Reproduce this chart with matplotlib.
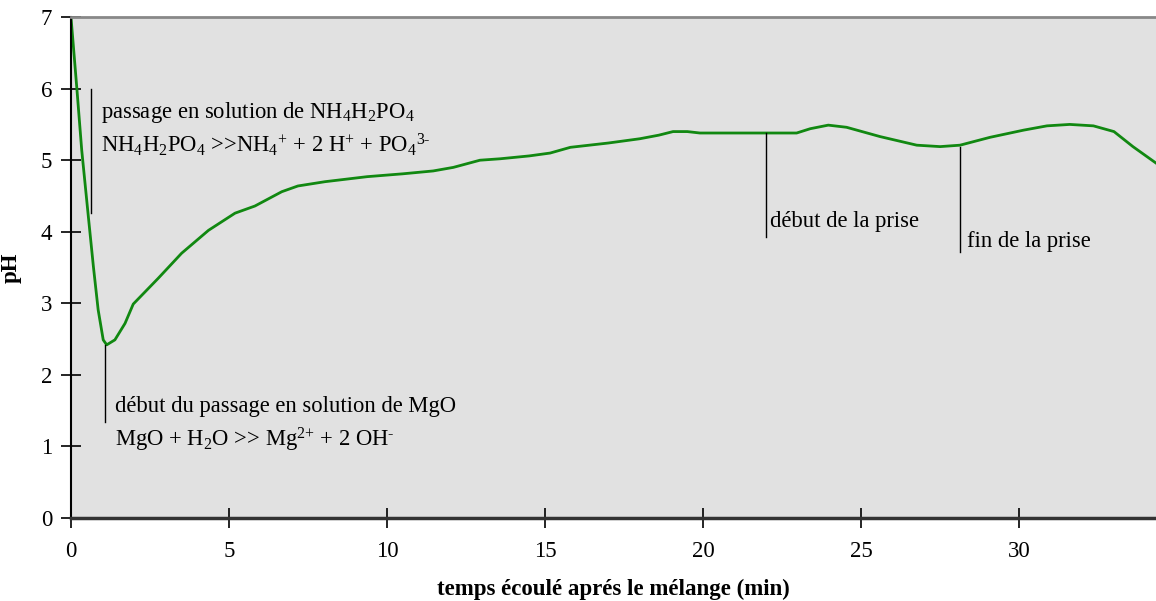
import matplotlib
matplotlib.use("Agg")
import matplotlib.pyplot as plt

# pH du ciment phosphomagnésien en fonction du temps
temps = [0, 0.19, 0.34, 0.55, 0.71, 0.86, 1.02, 1.13, 1.39, 1.71, 1.97, 2.76, 3.5, 4.35,
         5.19, 5.82, 6.67, 7.18, 8.04, 9.37, 10.5, 11.46, 12.1, 12.94, 13.58, 14.5,
         15.16, 15.8, 17.0, 18.0, 18.6, 19.05, 19.5, 19.9, 21.17, 22.12, 22.96, 23.39,
         23.96, 24.54, 25.6, 26.76, 27.5, 28.13, 29.08, 30.14, 30.88, 31.6, 32.35,
         33.0, 33.6, 34.33]
ph = [7.0, 5.98, 5.14, 4.21, 3.51, 2.91, 2.49, 2.42, 2.49, 2.72, 2.99, 3.35, 3.70, 4.02,
      4.26, 4.36, 4.56, 4.64, 4.70, 4.77, 4.81, 4.85, 4.9, 5.0, 5.02, 5.06,
      5.10, 5.18, 5.24, 5.30, 5.35, 5.40, 5.40, 5.38, 5.38, 5.38, 5.38, 5.44,
      5.49, 5.46, 5.33, 5.21, 5.19, 5.21, 5.32, 5.42, 5.48, 5.50, 5.48,
      5.40, 5.19, 4.96]

# repères verticaux (x, y bas, y haut)
reperes = [(0.63, 4.26, 6.0), (1.08, 1.34, 2.42), (22.0, 3.93, 5.38), (28.13, 3.72, 5.19)]

plt.rcParams['font.family'] = ['Liberation Serif', 'DejaVu Serif']
plt.rcParams['mathtext.fontset'] = 'custom'
plt.rcParams['mathtext.rm'] = 'Liberation Serif'
plt.rcParams['mathtext.it'] = 'Liberation Serif:italic'
plt.rcParams['mathtext.bf'] = 'Liberation Serif:bold'

fig = plt.figure(figsize=(11.56, 6.01), dpi=100)
ax = fig.add_axes([0.0614, 0.138, 0.9386, 0.8336])
ax.set_facecolor('#e1e1e1')

ax.plot(temps, ph, color='#118811', lw=2.0, solid_joinstyle='round')
for x, y0, y1 in reperes:
    ax.plot([x, x], [y0, y1], color='black', lw=1.0)

fs = 16.3
hy = '\u2010'
ax.text(0.95, 5.66, r'passage en solution de NH$_4$H$_2$PO$_4$', fontsize=fs, va='center')
ax.text(0.95, 5.22, r'NH$_4$H$_2$PO$_4$ >>NH$_4$$^{{+}}$ + 2 H$^{{+}}$ + PO$_4$$^{3' + hy + '}$',
        fontsize=fs, va='center')
ax.text(1.4, 1.56, 'début du passage en solution de MgO', fontsize=fs, va='center')
ax.text(1.4, 1.09, r'MgO + H$_2$O >> Mg$^{2{+}}$ + 2 OH$^{' + hy + '}$', fontsize=fs, va='center')
ax.text(22.12, 4.14, 'début de la prise', fontsize=fs, va='center')
ax.text(28.35, 3.87, 'fin de la prise', fontsize=fs, va='center')

ax.set_xlim(0, 34.33)
ax.set_ylim(0, 7)
ax.set_xticks(range(0, 35, 5))
ax.set_yticks(range(0, 8))
ax.tick_params(axis='both', direction='inout', length=15, width=1.2, labelsize=16.5)
ax.tick_params(axis='x', pad=9)
ax.tick_params(axis='y', pad=6)

ax.spines['right'].set_visible(False)
ax.spines['top'].set_color('#888888')
ax.spines['top'].set_linewidth(2)
ax.spines['left'].set_color('black')
ax.spines['left'].set_linewidth(1.5)
ax.spines['bottom'].set_color('#333333')
ax.spines['bottom'].set_linewidth(2.5)

ax.set_xlabel('temps écoulé aprés le mélange (min)', fontsize=16.5, fontweight='bold', labelpad=12)
ax.set_ylabel('pH', fontsize=16.5, fontweight='bold', labelpad=14)

fig.savefig('out.png', dpi=100)
